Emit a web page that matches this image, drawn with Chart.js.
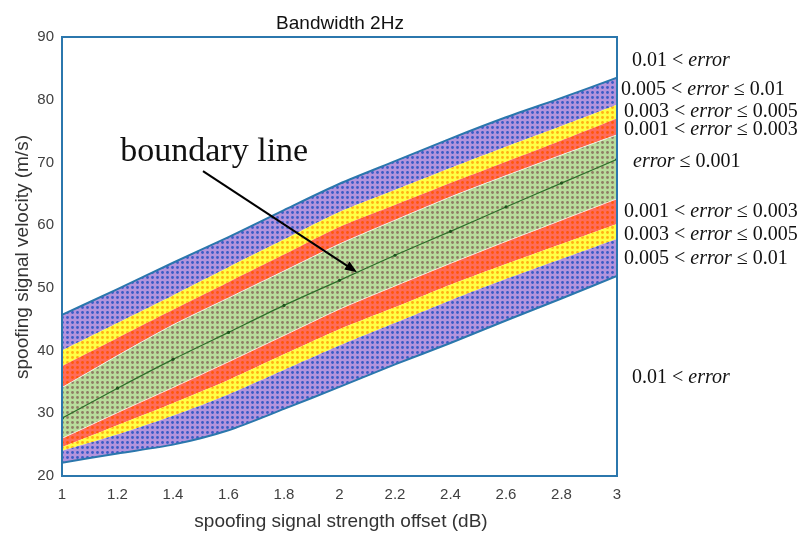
<!DOCTYPE html>
<html>
<head>
<meta charset="utf-8">
<script src="https://cdn.jsdelivr.net/npm/chart.js@4/dist/chart.umd.min.js"></script>
<style>
  html, body { margin: 0; padding: 0; background: #ffffff; }
  canvas { display: block; }
</style>
</head>
<body>
<canvas id="bandChart" width="798" height="534"></canvas>
<script>
// ---- data: spoofing signal velocity (m/s) at each strength offset (dB) ----
const xValues = [1, 1.2, 1.4, 1.6, 1.8, 2, 2.2, 2.4, 2.6, 2.8, 3];
const xTickLabels = ['1', '1.2', '1.4', '1.6', '1.8', '2', '2.2', '2.4', '2.6', '2.8', '3'];
const yTickLabels = ['20', '30', '40', '50', '60', '70', '80', '90'];

// band edges, from the lower outer edge up to the upper outer edge
const lowerEdge      = [22.1, 23.6, 25.0, 27.3, 30.7, 34.2, 37.8, 41.2, 44.8, 48.3, 51.9];
const lowerPurpleTop = [24.0, 26.6, 29.6, 33.0, 36.9, 40.8, 44.4, 48.0, 51.4, 54.6, 57.8];
const lowerYellowTop = [24.6, 28.1, 31.6, 35.3, 39.4, 43.4, 46.9, 50.5, 53.8, 57.0, 60.2];
const lowerRedTop    = [26.0, 30.1, 34.1, 38.2, 42.4, 46.6, 50.3, 53.9, 57.4, 60.8, 64.2];
const boundaryLine   = [29.2, 34.0, 38.6, 42.9, 47.2, 51.2, 55.2, 59.0, 62.9, 66.7, 70.5];
const upperGreenTop  = [34.1, 39.2, 44.1, 48.4, 52.7, 57.0, 60.8, 64.5, 67.9, 71.2, 74.4];
const upperRedTop    = [37.5, 42.0, 46.5, 50.9, 55.3, 59.7, 63.2, 66.7, 70.1, 73.5, 77.0];
const upperYellowTop = [40.0, 44.4, 48.8, 53.3, 57.7, 62.1, 65.6, 69.1, 72.5, 75.8, 79.2];
const upperEdge      = [45.7, 49.8, 54.0, 58.1, 62.4, 66.6, 70.2, 73.8, 77.2, 80.3, 83.5];

// right-hand region labels: [before, italic word, after]
const regionLabels = [
    ['0.01 < ', 'error', ''],
    ['0.005 < ', 'error', ' \u2264 0.01'],
    ['0.003 < ', 'error', ' \u2264 0.005'],
    ['0.001 < ', 'error', ' \u2264 0.003'],
    ['', 'error', ' \u2264 0.001'],
    ['0.001 < ', 'error', ' \u2264 0.003'],
    ['0.003 < ', 'error', ' \u2264 0.005'],
    ['0.005 < ', 'error', ' \u2264 0.01'],
    ['0.01 < ', 'error', '']
];
const regionLabelPos = [
    [15, 66], [4, 95], [7, 117], [7, 135], [16, 167],
    [7, 217], [7, 240], [7, 264], [15, 383]
];

const FRAME_BLUE = '#2b77ad';
const SANS = '"Liberation Sans", Arial, sans-serif';
const SERIF = '"Liberation Serif", "Times New Roman", serif';

// dotted fill: plain background with a grid of round dots
function dotPattern(bg, dot) {
    const c = document.createElement('canvas');
    c.width = 5;
    c.height = 5;
    const g = c.getContext('2d');
    g.fillStyle = bg;
    g.fillRect(0, 0, 5, 5);
    g.fillStyle = dot;
    g.beginPath();
    g.arc(2.5, 2.5, 1.4, 0, Math.PI * 2);
    g.fill();
    return g.createPattern(c, 'repeat');
}

const FILLS = {
    purple: dotPattern('#b394dd', '#3a5cc6'),
    yellow: dotPattern('#ffff45', '#ffb014'),
    red: dotPattern('#ff6c5a', '#ff560a'),
    green: dotPattern('#b9dd9c', '#8f7e64')
};

function pts(arr) {
    return xValues.map((x, i) => ({ x: x, y: arr[i] }));
}

function edge(arr, fillStyle, line) {
    return {
        data: pts(arr),
        borderColor: line ? line.color : 'rgba(0,0,0,0)',
        borderWidth: line ? line.width : 0,
        backgroundColor: fillStyle || 'rgba(0,0,0,0)',
        fill: fillStyle ? '-1' : false,
        pointRadius: 0,
        tension: 0.25,
        order: 2
    };
}

const whiteSeam = { color: 'rgba(255,255,255,0.7)', width: 1 };
const outerLine = { color: FRAME_BLUE, width: 2 };

// frame, region labels and the "boundary line" arrow
const decorPlugin = {
    id: 'decor',
    afterDatasetsDraw(chart) {
        const { ctx, chartArea: a } = chart;
        ctx.save();
        ctx.strokeStyle = FRAME_BLUE;
        ctx.lineWidth = 2;
        ctx.strokeRect(a.left, a.top, a.right - a.left, a.bottom - a.top);
        ctx.restore();
    },
    afterDraw(chart) {
        const { ctx, chartArea: a, scales } = chart;
        ctx.save();

        // title
        ctx.fillStyle = '#111';
        ctx.font = '19px ' + SANS;
        ctx.textAlign = 'center';
        ctx.textBaseline = 'alphabetic';
        ctx.fillText('Bandwidth 2Hz', 340, 29);

        // axis titles
        ctx.fillStyle = '#333';
        ctx.fillText('spoofing signal strength offset (dB)', 341, 527);
        ctx.save();
        ctx.translate(28, 257);
        ctx.rotate(-Math.PI / 2);
        ctx.fillText('spoofing signal velocity (m/s)', 0, 0);
        ctx.restore();

        // region labels on the right
        ctx.textAlign = 'left';
        ctx.fillStyle = '#111';
        regionLabels.forEach((parts, i) => {
            let x = a.right + regionLabelPos[i][0];
            const y = regionLabelPos[i][1];
            parts.forEach((txt, j) => {
                if (!txt) return;
                ctx.font = (j === 1 ? 'italic ' : '') + '20px ' + SERIF;
                ctx.fillText(txt, x, y);
                x += ctx.measureText(txt).width;
            });
        });

        // annotation
        const sx = scales.x, sy = scales.y;
        ctx.font = '34px ' + SERIF;
        ctx.fillStyle = '#111';
        ctx.fillText('boundary line', sx.getPixelForValue(1.21), sy.getPixelForValue(70.2));

        const x0 = sx.getPixelForValue(1.508), y0 = sy.getPixelForValue(68.6);
        const x1 = sx.getPixelForValue(2.063), y1 = sy.getPixelForValue(52.5);
        const ang = Math.atan2(y1 - y0, x1 - x0);
        ctx.strokeStyle = '#000';
        ctx.lineWidth = 2;
        ctx.beginPath();
        ctx.moveTo(x0, y0);
        ctx.lineTo(x1 - 8 * Math.cos(ang), y1 - 8 * Math.sin(ang));
        ctx.stroke();
        ctx.fillStyle = '#000';
        ctx.beginPath();
        ctx.moveTo(x1, y1);
        ctx.lineTo(x1 - 13 * Math.cos(ang - 0.38), y1 - 13 * Math.sin(ang - 0.38));
        ctx.lineTo(x1 - 13 * Math.cos(ang + 0.38), y1 - 13 * Math.sin(ang + 0.38));
        ctx.closePath();
        ctx.fill();

        ctx.restore();
    }
};

new Chart(document.getElementById('bandChart'), {
    type: 'line',
    data: {
        datasets: [
            edge(lowerEdge, null, outerLine),
            edge(lowerPurpleTop, FILLS.purple),
            edge(lowerYellowTop, FILLS.yellow),
            edge(lowerRedTop, FILLS.red, whiteSeam),
            edge(upperGreenTop, FILLS.green, whiteSeam),
            edge(upperRedTop, FILLS.red),
            edge(upperYellowTop, FILLS.yellow),
            edge(upperEdge, FILLS.purple, outerLine),
            {
                data: pts(boundaryLine),
                borderColor: '#2f6e2a',
                borderWidth: 1.2,
                pointRadius: 1.6,
                pointBackgroundColor: '#1f521c',
                pointBorderWidth: 0,
                fill: false,
                tension: 0.25,
                order: 1
            }
        ]
    },
    options: {
        responsive: false,
        animation: false,
        layout: { padding: { top: 37, right: 181, left: 0, bottom: 0 } },
        plugins: {
            legend: { display: false },
            tooltip: { enabled: false },
            title: { display: false }
        },
        scales: {
            x: {
                type: 'linear',
                min: 1,
                max: 3,
                afterFit: function (scale) { scale.height = 58; },
                ticks: {
                    stepSize: 0.2,
                    padding: 10,
                    color: '#404040',
                    font: { family: SANS, size: 15 },
                    callback: function (value, index) { return xTickLabels[index]; }
                },
                grid: { display: false, drawTicks: false },
                border: { display: false }
            },
            y: {
                min: 20,
                max: 90,
                afterFit: function (scale) { scale.width = 62; },
                ticks: {
                    stepSize: 10,
                    padding: 8,
                    color: '#404040',
                    font: { family: SANS, size: 15 },
                    callback: function (value, index) { return yTickLabels[index]; }
                },
                grid: { display: false, drawTicks: false },
                border: { display: false }
            }
        }
    },
    plugins: [decorPlugin]
});
</script>
</body>
</html>
